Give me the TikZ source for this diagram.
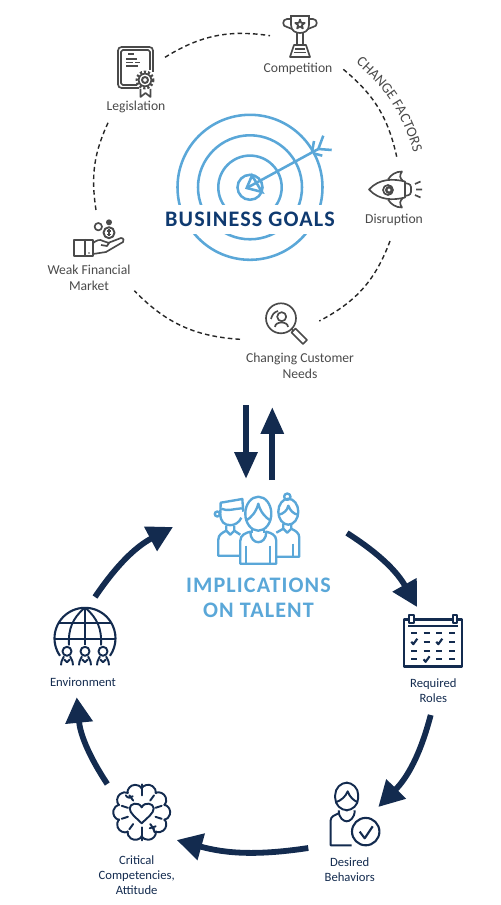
\documentclass[tikz,border=0pt]{standalone}
\usepackage{fontspec}
\setmainfont{Carlito}
\usepackage{tikz}
\usetikzlibrary{arrows.meta, positioning, decorations.text, calc}
\definecolor{navyline}{HTML}{132B4F}
\definecolor{navytitle}{HTML}{0F3A70}
\definecolor{skyline}{HTML}{5AA7D8}
\definecolor{grayink}{HTML}{4A4A4A}
\newcommand{\labelfont}{\fontsize{7.75}{9.1}\selectfont}
\newcommand{\navyfont}{\fontsize{7.2}{8.7}\selectfont}
\newcommand{\bigfont}{\fontsize{12.6}{14.2}\selectfont\bfseries\addfontfeatures{LetterSpace=5}}
\newcommand{\curvefont}{\fontsize{8.3}{9}\selectfont}
\tikzstyle{graytext} = [text=grayink, align=center, font=\labelfont, inner sep=0pt]
\tikzstyle{navytext} = [text=navyline, align=center, font=\navyfont, inner sep=0pt]
\tikzstyle{goaltext} = [text=navytitle, font=\bigfont, fill=white, minimum height=0.6cm, minimum width=3.4cm, inner sep=0pt]
\tikzstyle{talenttext} = [text=skyline, align=center, font=\bigfont, inner sep=0pt]
\tikzstyle{dashline} = [line width=0.8pt, black!85, dash pattern=on 2.6pt off 1.8pt]
\tikzstyle{ring} = [line width=1.45pt, skyline]
\tikzstyle{straightarrow} = [line width=3.4pt, navyline, -{Triangle[length=15.3pt, width=12.5pt]}]
\tikzstyle{curvearrow} = [line width=3.3pt, navyline, -{Triangle[length=14.5pt, width=15pt]}]
\tikzstyle{grayicon} = [line width=0.95pt, grayink, line join=round]
\tikzstyle{navyicon} = [line width=1.1pt, navyline, line join=round]
\tikzstyle{skyicon} = [line width=1.35pt, skyline, line join=round]
\tikzset{
  trophypic/.pic={
    \draw[grayicon] (-10,-20) -- (10,-20);
    \draw[grayicon] (-9,-20) -- (-9,-11) .. controls (-9,-5) and (-4,-3) .. (0,-3) .. controls (4,-3) and (9,-5) .. (9,-11) -- (9,-20);
    \draw[grayicon] (-9,-17) -- (-13,-17) .. controls (-18,-17) and (-18,-9) .. (-13,-9) -- (-8,-7);
    \draw[grayicon] (9,-17) -- (13,-17) .. controls (18,-17) and (18,-9) .. (13,-9) -- (8,-7);
    \draw[grayicon] (0,-16.5) -- (1.2,-13.1) -- (4.75,-13) -- (1.9,-10.9) -- (2.9,-7.5) -- (0,-9.5) -- (-2.9,-7.5) -- (-1.9,-10.9) -- (-4.75,-13) -- (-1.2,-13.1) -- cycle;
    \draw[grayicon] (-3,-3) -- (-3,9) (3,-3) -- (3,9);
    \draw[grayicon] (-6,9) -- (6,9) -- (10,21) -- (-10,21) -- cycle;
    \draw[grayicon] (-5,13) -- (5,13) (-6,16.5) -- (6,16.5);
  },
  certificatepic/.pic={
    \draw[grayicon, rounded corners=2] (3,16) -- (-18,16) -- (-18,-25) -- (17,-25) -- (17,0);
    \draw[grayicon, rounded corners=1] (1,13) -- (-15,13) -- (-15,-22) -- (14,-22) -- (14,-2);
    \draw[grayicon] (-8,-18) -- (-2,-18) (-10,-13) -- (1,-13) (-10,-9.5) -- (-3,-9.5) (-10,-6) -- (2,-6) (-1,-9.5) -- (4,-9.5);
    \draw[grayicon, line width=1.7pt, dash pattern=on 1.2pt off 1.1pt] (9,8) circle[radius=8];
    \draw[grayicon] (9,8) circle[radius=6.3];
    \draw[grayicon, line width=1.1pt] (9,8) circle[radius=3];
    \draw[grayicon] (4.5,17) -- (4.5,25) -- (9.5,21) -- (14.5,25) -- (14.5,17);
  },
  rocketpic/.pic={
    \draw[grayicon] (12,-8) .. controls (0,-11) and (-14,-11) .. (-24,0) .. controls (-14,11) and (0,11) .. (12,8) -- cycle;
    \draw[grayicon] (-5,-10) .. controls (-2,-15) and (3,-18) .. (9,-18) .. controls (6,-14) and (7,-11) .. (10,-8.5);
    \draw[grayicon] (-5,10) .. controls (-2,15) and (3,18) .. (9,18) .. controls (6,14) and (7,11) .. (10,8.5);
    \draw[grayicon] (-5,0.5) circle[radius=5];
    \draw[grayicon, line width=1.3pt] (-4,0.5) circle[radius=2.8];
    \draw[grayicon, rounded corners=1.5] (12,-6.5) -- (18,-5) -- (18,5) -- (12,6.5);
    \draw[grayicon] (22,-5.5) -- (27.5,-8) (23,0) -- (29,0) (22,5.5) -- (27.5,8);
  },
  handpic/.pic={
    \draw[grayicon, line width=1.1pt] (-24.7,2) rectangle (-6,18);
    \draw[grayicon, line width=1.1pt] (-14,1) -- (-14,18);
    \fill[grayicon] (-10,15) circle[radius=0.8];
    \draw[grayicon] (-6,5) .. controls (-2,2) and (1,1) .. (4,3) -- (10,5) -- (8,8) -- (2,7);
    \draw[grayicon] (9,5) -- (22,0) .. controls (25,0) and (25,3) .. (24,4) -- (7,14) -- (-6,16);
    \draw[grayicon] (-0.7,-11.3) circle[radius=3.7];
    \fill[grayicon] (10,-15.7) circle[radius=3];
    \draw[grayicon, line width=1.1pt] (10,-5.3) circle[radius=5.5];
    \draw[grayicon] (10,-8.5) -- (10,-2) (8,-3.5) -- (12,-3.5) (8,-7) -- (12,-7);
  },
  magnifierpic/.pic={
    \draw[grayicon] (-6,-5.7) circle[radius=15];
    \draw[grayicon] (4,4.5) -- (6.5,7);
    \draw[grayicon] (4.5,8.5) -- (8.5,4.5) -- (20,16) -- (16,20) -- cycle;
    \draw[grayicon] (-5.3,-7.3) circle[radius=4.5];
    \draw[grayicon] (-12,3) .. controls (-12,-3) and (1,-3) .. (1,3);
    \draw[grayicon] (-16,-5) .. controls (-15,-9) and (-13,-12) .. (-9,-13);
  },
  peoplepic/.pic={
    % middle person
    \draw[skyicon] (0,-18) ellipse (13 and 17);
    \draw[skyicon] (-12.5,-11) .. controls (-7,-14) and (-2,-20) .. (0,-28) .. controls (2,-20) and (7,-14) .. (12.5,-11);
    \draw[skyicon] (-18,32) -- (-18,9) .. controls (-18,3) and (-12,1) .. (-8,0) .. controls (-8,14) and (8,14) .. (8,0) .. controls (12,1) and (18,3) .. (18,9) -- (18,32) -- cycle;
    \draw[skyicon] (-12,14) -- (-12,32) (12,14) -- (12,32);
    \draw[skyicon] (-6,-3) -- (-6,1) (6,-3) -- (6,1);
    % left person
    \draw[skyicon] (-38,-18) .. controls (-38,-10) and (-34,-6.5) .. (-28,-6.5) .. controls (-24,-6.5) and (-19,-9) .. (-17,-14);
    \draw[skyicon] (-38,-18) -- (-37.6,-29) -- (-16,-32.7) -- (-15,-20);
    \draw[skyicon] (-37,-23) .. controls (-31,-20) and (-24,-23) .. (-16.5,-23.4);
    \draw[skyicon] (-41,-17.7) circle[radius=2.5];
    \draw[skyicon] (-32,-6) -- (-32,-1) -- (-28,3) -- (-24,-1) -- (-24,-6);
    \draw[skyicon] (-18,24) -- (-40,24) -- (-40,8) .. controls (-40,3) and (-36,1) .. (-32,-1);
    \draw[skyicon] (-24,-1) -- (-18,3);
    % right person
    \draw[skyicon] (30,-20) ellipse (10 and 13);
    \draw[skyicon] (29,-35) circle[radius=3.2];
    \draw[skyicon] (20.5,-17) .. controls (25,-18) and (29,-21) .. (30,-26) .. controls (32,-21) and (35,-18) .. (39.5,-17);
    \draw[skyicon] (25,-8) -- (25,-3) -- (29,1) -- (33,-3) -- (33,-8);
    \draw[skyicon] (18,25) -- (41,25) -- (41,6) .. controls (41,1) and (37,-1) .. (33,-3);
    \draw[skyicon] (25,-3) -- (18,1);
    \draw[skyicon] (35,12) -- (35,25);
  },
  globepic/.pic={
    \draw[navyicon, line width=1.2pt] (145:30.5) arc (145:395:30.5);
    \draw[navyicon, line width=1.2pt] (-30,1) -- (30,1);
    \draw[navyicon] (-26,-15) -- (26,-15);
    \draw[navyicon] (0,-30.5) -- (0,7);
    \draw[navyicon] (-1,-30) .. controls (-12,-20) and (-17,-10) .. (-16,7);
    \draw[navyicon] (1,-30) .. controls (12,-20) and (17,-10) .. (16,7);
    \foreach \px in {-18,0,18} {
      \draw[navyicon] (\px,13) circle[radius=4.5];
      \draw[navyicon] (\px-6,27) .. controls (\px-6,21) and (\px-3,20) .. (\px-3,18);
      \draw[navyicon] (\px+6,27) .. controls (\px+6,21) and (\px+3,20) .. (\px+3,18);
      \draw[navyicon] (\px-3,21) -- (\px,24) -- (\px+3,21);
    }
  },
  brainpic/.pic={
    \foreach \lobe in {0,36,...,324} {
      \draw[navyicon, line cap=round] ($(\lobe:20.5)+(\lobe-75:8)$) arc (\lobe-75:\lobe+75:8);
    }
    \foreach \lobe in {18,54,126,162,198,234,306,342} {
      \draw[navyicon, line cap=round] (\lobe:14.5) -- (\lobe:21);
    }
    \draw[navyicon, line cap=round] (0,-28) -- (0,-17) (0,15) -- (0,28);
    \draw[navyicon, line cap=round] (-16,-17) .. controls (-14,-14) and (-11,-14) .. (-9,-16);
    \draw[navyicon, line cap=round] (14,14) -- (8,16) (11,15) -- (13,20);
    \draw[navyicon] (0,11) .. controls (-6,5) and (-12,1) .. (-12,-4) .. controls (-12,-9) and (-3,-11) .. (0,-5) .. controls (3,-11) and (12,-9) .. (12,-4) .. controls (12,1) and (6,5) .. (0,11) -- cycle;
  },
  calendarpic/.pic={
    \draw[navyicon, line width=1.3pt] (-29,-21.5) rectangle (29,25.5);
    \draw[navyicon, line width=1.3pt] (-25,-15) -- (25,-15);
    \draw[navyicon, fill=white] (-24,-26) rectangle (-19.5,-18);
    \draw[navyicon, fill=white] (19.5,-26) rectangle (24,-18);
    \foreach \cx/\cy in {-19/-7.7,-6.7/-7.7,6/-7.7,19/-7.7,-6.7/0.7,19/0.7,-19/9.7,-6.7/9.7,6/9.7,19/9.7,-19/18.3,6/18.3,19/18.3} {
      \draw[navyicon, line width=1.2pt] (\cx-3,\cy) -- (\cx+3,\cy);
    }
    \foreach \cx/\cy in {-19/0.7,6/0.7,-6.7/18.3} {
      \draw[navyicon, line width=1.2pt] (\cx-3,\cy) -- (\cx-1,\cy+2.5) -- (\cx+3,\cy-3);
    }
  },
  behaviorpic/.pic={
    \draw[navyicon, rounded corners=7] (-11.5,-3) -- (-11.5,-30.7) -- (11.5,-30.7) -- (11.5,-3) -- cycle;
    \draw[navyicon] (-11,-11) .. controls (-5,-13) and (-1,-17) .. (1,-22) .. controls (3,-16) and (7,-13) .. (11,-11);
    \draw[navyicon] (-8,-3) .. controls (-8,5) and (-3,8) .. (0,8) .. controls (3,8) and (8,5) .. (8,-3);
    \draw[navyicon] (5,32) -- (-16,32) -- (-16,7) .. controls (-16,3) and (-12,2) .. (-8,0);
    \draw[navyicon, line width=1.2pt] (19,18.3) circle[radius=13.7];
    \draw[navyicon, line width=1.2pt] (13,18.3) -- (18,25) -- (26,13);
  }
}

\begin{document}
\begin{tikzpicture}[x=0.02cm, y=-0.02cm]
    \useasboundingbox (0,0) rectangle (500,905);

    % Target
    \coordinate (target) at (250,187.3);
    \draw [ring] (target) circle[radius=72.5];
    \draw [ring] (target) circle[radius=52];
    \draw [ring] (target) circle[radius=31.7];
    \draw [ring] (target) circle[radius=12.5];
    \coordinate (tip) at (246.7,188);
    \coordinate (nock) at (318.3,149);
    \draw [ring, fill=white] (tip) -- (252,175.5) -- (262,192) -- cycle;
    \draw [ring] (tip) -- (nock);
    \draw [ring] (nock) -- (323.3,135.7) (nock) -- (331.7,150) (312,152) -- (314,141) (313.3,153.3) -- (322.3,155.7);
    \node (goals) [goaltext] at (250,219.5) {BUSINESS GOALS};

    % Change factors
    \coordinate (trophy) at (300,36);
    \coordinate (certificate) at (136,72);
    \coordinate (rocket) at (393,189.5);
    \coordinate (hand) at (99,238);
    \coordinate (magnifier) at (287,324);
    \pic at (trophy) {trophypic};
    \pic at (certificate) {certificatepic};
    \pic at (rocket) {rocketpic};
    \pic at (hand) {handpic};
    \pic at (magnifier) {magnifierpic};
    \node (competition) [graytext, below of=trophy, node distance=0.66cm, xshift=-0.04cm] {Competition};
    \node (legislation) [graytext, below of=certificate, node distance=0.7cm] {Legislation};
    \node (disruption) [graytext, below of=rocket, node distance=0.6cm, xshift=0.02cm] {Disruption};
    \node (weak) [graytext, below of=hand, node distance=0.79cm, xshift=-0.2cm] {Weak Financial\\Market};
    \node (needs) [graytext, below of=magnifier, node distance=0.84cm, xshift=0.26cm] {Changing Customer\\Needs};

    % Dashed circle
    \coordinate (dashA) at (165,57.3);
    \coordinate (dashB) at (270,35.7);
    \coordinate (dashC) at (343.3,69.3);
    \coordinate (dashD) at (396.7,156.7);
    \coordinate (dashE) at (390,241);
    \coordinate (dashF) at (319.3,321);
    \coordinate (dashG) at (240,339.3);
    \coordinate (dashH) at (134.3,290.7);
    \coordinate (dashI) at (96,210);
    \coordinate (dashJ) at (109,120.7);
    \draw [dashline] (dashA) to[bend left=20] (dashB);
    \draw [dashline] (dashC) to[bend left=19] (dashD);
    \draw [dashline] (dashE) to[bend left=21] (dashF);
    \draw [dashline] (dashG) to[bend left=21] (dashH);
    \draw [dashline] (dashI) to[bend left=17] (dashJ);
    \path [decorate, decoration={text along path, text={|\curvefont\color{grayink}|CHANGE FACTORS}, text align=center}] (355,62) to[bend left=16] (414,154);

    % Up and down
    \coordinate (downA) at (246,405);
    \coordinate (downB) at (246,479);
    \coordinate (upA) at (272.3,480);
    \coordinate (upB) at (272.3,407);
    \draw [straightarrow] (downA) -- (downB);
    \draw [straightarrow] (upA) -- (upB);

    % Talent
    \coordinate (people) at (258.3,531.7);
    \pic at (people) {peoplepic};
    \node (talent) [talenttext] at (258.5,597.5) {IMPLICATIONS\\ON TALENT};

    % Talent circle
    \coordinate (calendar) at (433.3,641);
    \coordinate (behavior) at (346.7,813.3);
    \coordinate (brain) at (141.7,812.3);
    \coordinate (globe) at (85,638.3);
    \pic at (calendar) {calendarpic};
    \pic at (behavior) {behaviorpic};
    \pic at (brain) {brainpic};
    \pic at (globe) {globepic};
    \node (roles) [navytext, below of=calendar, node distance=1.0cm] {Required\\Roles};
    \node (behaviors) [navytext, below of=behavior, node distance=1.13cm, xshift=0.06cm] {Desired\\Behaviors};
    \node (competencies) [navytext, below of=brain, node distance=1.26cm, xshift=-0.1cm] {Critical\\Competencies,\\Attitude};
    \node (environment) [navytext, below of=globe, node distance=0.88cm, xshift=-0.04cm] {Environment};

    % Arrows
    \coordinate (loopA) at (347,533);
    \coordinate (loopB) at (417,607);
    \coordinate (loopC) at (430.7,715);
    \coordinate (loopD) at (378.3,807);
    \coordinate (loopE) at (308.3,848);
    \coordinate (loopF) at (176.7,840);
    \coordinate (loopG) at (107.3,784);
    \coordinate (loopH) at (76.7,697.3);
    \coordinate (loopI) at (95,597);
    \coordinate (loopJ) at (173,527);
    \draw [curvearrow] (loopA) to[bend left=14] (loopB);
    \draw [curvearrow] (loopC) to[bend left=15] (loopD);
    \draw [curvearrow] (loopE) to[bend left=12] (loopF);
    \draw [curvearrow] (loopG) to[bend left=14] (loopH);
    \draw [curvearrow] (loopI) to[bend left=14] (loopJ);
\end{tikzpicture}
\end{document}
